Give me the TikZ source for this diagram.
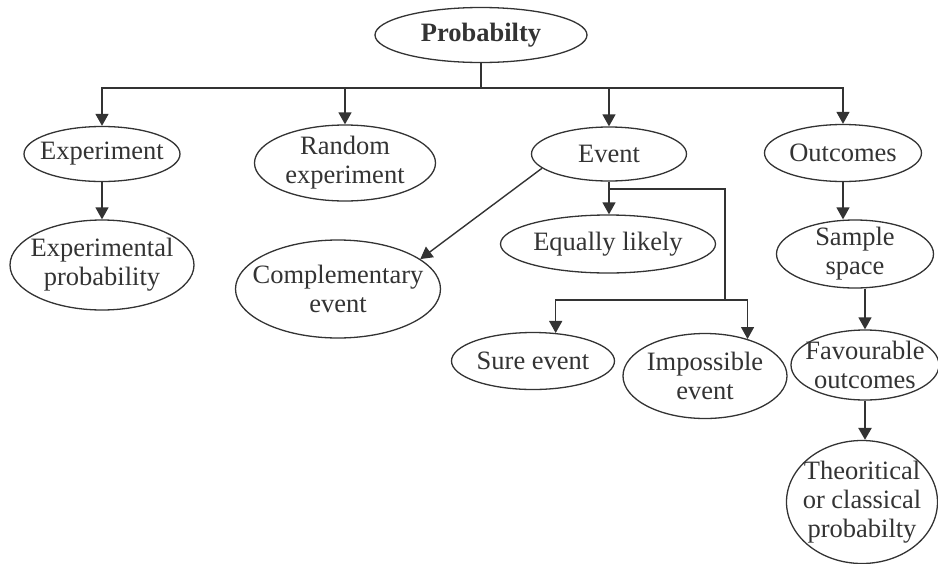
\documentclass[tikz,border=0pt]{standalone}
\usepackage{fontspec}
\setmainfont{Liberation Serif}
\usetikzlibrary{shapes.geometric,arrows.meta}
\tikzset{
  bubble/.style={draw=black!80, ellipse, line width=1.3pt, inner xsep=-20pt, inner ysep=-8pt,
    align=center, text=black!80, font=\fontsize{26.5}{29}\selectfont},
  link/.style={draw=black!80, line width=1.4pt},
  arr/.style={link, -{Triangle[length=12pt,width=13pt]}}
}
\begin{document}
\begin{tikzpicture}[x=1pt,y=-1pt]
    \useasboundingbox (0,0) rectangle (938,563);
    % top level
    \node [bubble, minimum width=212pt, minimum height=55pt] (prob) at (481,35) {\textbf{Probabilty}};
    \node [bubble, minimum width=156pt, minimum height=55pt] (exp) at (102,154) {Experiment};
    \node [bubble, minimum width=181pt, minimum height=76pt] (rand) at (345,163) {Random\\experiment};
    \node [bubble, minimum width=155pt, minimum height=54pt] (evt) at (609,154) {Event};
    \node [bubble, minimum width=157pt, minimum height=57pt] (out) at (843,153) {Outcomes};
    % lower levels
    \node [bubble, minimum width=184pt, minimum height=90pt] (expprob) at (102,265) {Experimental\\probability};
    \node [bubble, minimum width=205pt, minimum height=98pt] (comp) at (338,289) {Complementary\\event};
    \node [bubble, minimum width=215pt, minimum height=58pt] (eq) at (608,244) {Equally likely};
    \node [bubble, minimum width=163pt, minimum height=57pt] (sure) at (533,361) {Sure event};
    \node [bubble, minimum width=164pt, minimum height=85pt] (imp) at (705,376) {Impossible\\event};
    \node [bubble, minimum width=157pt, minimum height=68pt] (samp) at (855,254) {Sample\\space};
    \node [bubble, minimum width=148pt, minimum height=70pt] (fav) at (865,365) {Favourable\\outcomes};
    \node [bubble, minimum width=151pt, minimum height=123pt] (theo) at (862,502) {Theoritical\\or classical\\probabilty};
    % joints
    \coordinate (bus) at (481,88);
    \coordinate (evtjoin) at (609,189);
    \coordinate (split) at (725,300);
    % connectors
    \draw [link] (prob) -- (bus);
    \draw [arr] (bus) -| (exp.north);
    \draw [arr] (bus) -| (rand.north);
    \draw [arr] (bus) -| (evt.north);
    \draw [arr] (bus) -| (out.north);
    \draw [arr] (exp.south) -- (exp.south |- expprob.north);
    \draw [arr] (evt.192) -- (comp.20);
    \draw [arr] (evt.south) -- (evt.south |- eq.north);
    \draw [link] (evtjoin) -| (split);
    \draw [arr] (split) -| (sure.51);
    \draw [arr] (split) -| (imp.41);
    \draw [arr] (out.south) -- (out.south |- samp.north);
    \draw [arr] (fav.north |- samp.south) -- (fav.north);
    \draw [arr, line width=2.4pt] (fav.south) -- (fav.south |- theo.north);
\end{tikzpicture}
\end{document}
